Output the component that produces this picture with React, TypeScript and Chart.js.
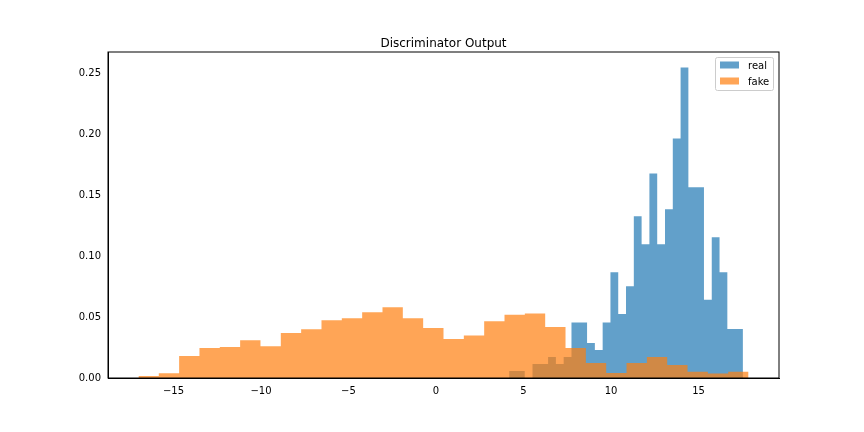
import React, { useEffect, useRef } from "react";
import { Chart, registerables } from "chart.js";
Chart.register(...registerables);

const realStart = 4.18;
const realBinWidth = 0.4453;
const realValues = [0.0057, 0.0057, 0, 0.0115, 0.0115, 0.0172, 0.0115, 0.0172, 0.0456, 0.0456,
  0.0287, 0.023, 0.0456, 0.0869, 0.0525, 0.0754, 0.1328, 0.1098, 0.168, 0.1098,
  0.1385, 0.1967, 0.2549, 0.1566, 0.1566, 0.0642, 0.1156, 0.0869, 0.0402, 0.0402];
const fakeStart = -17.0;
const fakeBinWidth = 1.162;
const fakeValues = [0.0016, 0.004, 0.018, 0.0246, 0.0254, 0.031, 0.026, 0.037, 0.04, 0.0475,
  0.049, 0.054, 0.058, 0.049, 0.041, 0.032, 0.035, 0.0467, 0.052, 0.053,
  0.0418, 0.0246, 0.0123, 0.0041, 0.0123, 0.0172, 0.0107, 0.0052, 0.0036, 0.0052];
const xTicks = [-15, -10, -5, 0, 5, 10, 15];
const yTicks = [0, 0.05, 0.1, 0.15, 0.2, 0.25];
const labels = ["real", "fake"];
const colors = ["rgba(31,119,180,0.7)", "rgba(255,127,14,0.7)"];

function steps(start: number, w: number, vals: number[]) {
  const pts = [{ x: start, y: 0 }];
  vals.forEach((v, i) => pts.push({ x: start + i * w, y: v }));
  pts.push({ x: start + vals.length * w, y: 0 });
  return pts;
}

const FONT = "'DejaVu Sans', sans-serif";

export default function App() {
  const ref = useRef<HTMLCanvasElement>(null);
  useEffect(() => {
    const frame = {
      id: "frame",
      afterDraw(c: any) {
        const { ctx, chartArea: a } = c;
        ctx.save();
        ctx.strokeStyle = "#000";
        ctx.lineWidth = 1;
        ctx.strokeRect(a.left, a.top, a.right - a.left, a.bottom - a.top);
        ctx.fillStyle = "#000";
        ctx.font = `12px ${FONT}`;
        ctx.textAlign = "center";
        ctx.textBaseline = "alphabetic";
        ctx.fillText("Discriminator Output", (a.left + a.right) / 2, 47);
        // legend
        const bx = 715, by = 57, bw = 58, bh = 33;
        ctx.fillStyle = "rgba(255,255,255,0.8)";
        ctx.strokeStyle = "#ccc";
        ctx.beginPath();
        (ctx as any).roundRect(bx + 0.5, by + 0.5, bw, bh, 2);
        ctx.fill();
        ctx.stroke();
        ctx.font = `10px ${FONT}`;
        ctx.textAlign = "left";
        ctx.textBaseline = "middle";
        labels.forEach((l, i) => {
          const y = by + 8 + i * 16;
          ctx.fillStyle = colors[i];
          ctx.fillRect(bx + 5, y - 3.5, 19, 7);
          ctx.fillStyle = "#000";
          ctx.fillText(l, bx + 33, y + 1);
        });
        ctx.restore();
      },
    };
    const chart = new Chart(ref.current!, {
      type: "line",
      data: {
        datasets: [
          { label: "real", data: steps(realStart, realBinWidth, realValues), stepped: "before", fill: "origin",
            backgroundColor: colors[0], borderWidth: 0, pointRadius: 0, order: 2 } as any,
          { label: "fake", data: steps(fakeStart, fakeBinWidth, fakeValues), stepped: "before", fill: "origin",
            backgroundColor: colors[1], borderWidth: 0, pointRadius: 0, order: 1 } as any,
        ],
      },
      options: {
        animation: false,
        responsive: false,
        devicePixelRatio: 1,
        layout: { padding: { top: 52, right: 85, left: 0, bottom: 0 } },
        plugins: { legend: { display: false }, tooltip: { enabled: false }, title: { display: false } },
        scales: {
          x: {
            type: "linear", min: -18.74, max: 19.6,
            afterBuildTicks: (s: any) => { s.ticks = xTicks.map((v) => ({ value: v })); },
            afterFit: (s: any) => { s.height = 54; },
            grid: { display: false, drawTicks: true, tickLength: 4, tickColor: "#000" } as any,
            border: { display: true, color: "#000" },
            ticks: { color: "#000", font: { family: FONT, size: 10 }, padding: 3, maxRotation: 0,
              callback: (v: any) => (Number(v) < 0 ? "\u2212" + Math.abs(Number(v)) : String(v)) },
          },
          y: {
            min: 0, max: 0.2677,
            afterBuildTicks: (s: any) => { s.ticks = yTicks.map((v) => ({ value: v })); },
            afterFit: (s: any) => { s.width = 108; },
            grid: { display: false, drawTicks: true, tickLength: 4, tickColor: "#000" } as any,
            border: { display: true, color: "#000" },
            ticks: { color: "#000", font: { family: FONT, size: 10 }, padding: 3,
              callback: (v: any) => Number(v).toFixed(2) },
          },
        },
      },
      plugins: [frame],
    });
    return () => chart.destroy();
  }, []);
  return (
    <div style={{ position: "fixed", left: 0, top: 0, width: 864, height: 432, background: "#fff" }}>
      <canvas ref={ref} width={864} height={432} style={{ width: 864, height: 432 }} />
    </div>
  );
}
